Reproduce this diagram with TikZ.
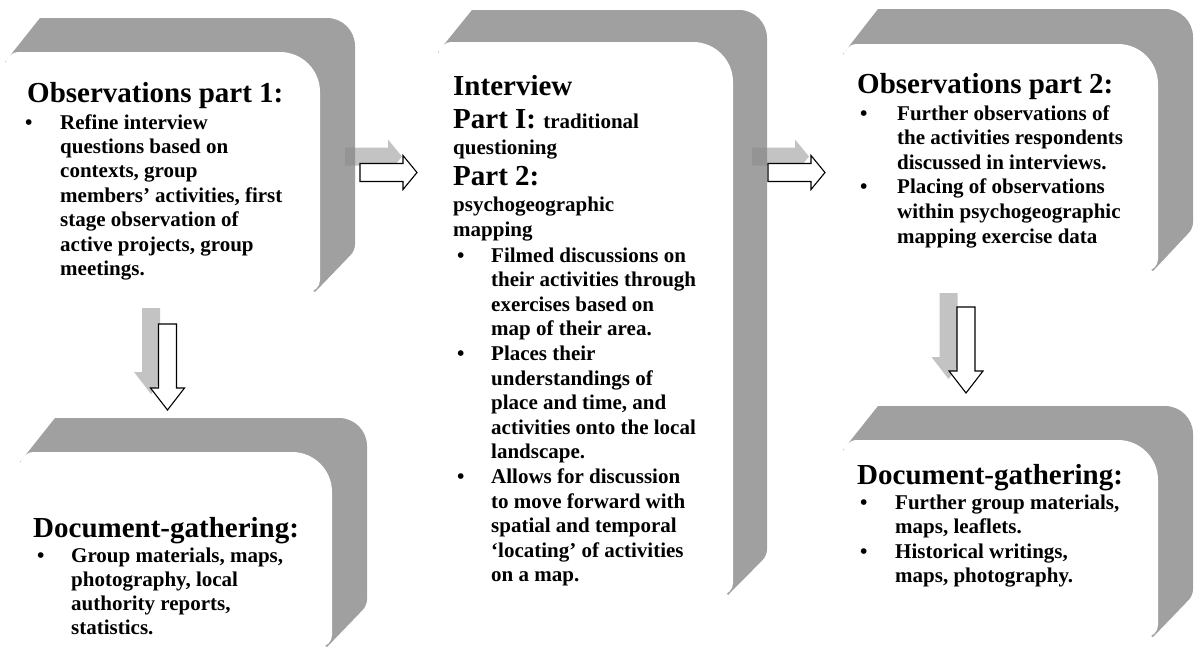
\documentclass[tikz,border=0pt]{standalone}
\usepackage{fontspec}
\setmainfont{Liberation Serif}
\definecolor{boxgray}{RGB}{160,160,160}
\definecolor{shgray}{RGB}{137,137,137}
\tikzset{
  backface/.style={fill=boxgray,draw=none},
  frontface/.style={fill=white,draw=none},
  shadowarrow/.style={fill=shgray,fill opacity=0.5,draw=none},
  outarrow/.style={fill=white,draw=black,line width=1.1pt,line join=miter},
  hd/.style={anchor=base west,inner sep=0pt,font=\fontsize{29}{34}\selectfont\bfseries},
  bd/.style={anchor=base west,inner sep=0pt,font=\fontsize{21}{24}\selectfont\bfseries},
}
% ribbon box: #1 x1, #2 top, #3 x2, #4 bottom, #5 dx, #6 dy (page y grows downward)
\newcommand\ribbon[6]{%
  \fill[backface] ({#1},{-(#2+10)}) -- ({#1+#5},{-(#2-#6)})
    -- ({#3+#5-28},{-(#2-#6)}) arc[start angle=90,end angle=0,radius=28]
    -- ({#3+#5},{-(#4-#6-14)}) arc[start angle=0,end angle=-45,radius=16]
    -- ({#3-5},{-#4}) -- cycle;
  \fill[frontface] ({#1},{-#4}) -- ({#1},{-(#2+14)}) arc[start angle=180,end angle=90,radius=14]
    -- ({#3-40},{-#2}) arc[start angle=90,end angle=0,radius=40]
    -- ({#3},{-(#4-12)}) arc[start angle=0,end angle=-90,radius=12] -- cycle;
}
% right block arrow starting at (#1,#2), centre line y=#2
\newcommand\rarrow[3]{%
  \filldraw[#3] ({#1},{-(#2-9)}) -- ({#1+43},{-(#2-9)}) -- ({#1+43},{-(#2-17)})
    -- ({#1+57},{-#2}) -- ({#1+43},{-(#2+17)}) -- ({#1+43},{-(#2+9)})
    -- ({#1},{-(#2+9)}) -- cycle;
}
% down block arrow: centre x=#1, top y=#2
\newcommand\darrow[3]{%
  \filldraw[#3] ({#1-9},{-#2}) -- ({#1+9},{-#2}) -- ({#1+9},{-(#2+64)})
    -- ({#1+17},{-(#2+64)}) -- ({#1},{-(#2+86)}) -- ({#1-17},{-(#2+64)})
    -- ({#1-9},{-(#2+64)}) -- cycle;
}
\newcommand\BL[2]{\hbox{\makebox[#1pt][l]{•}#2}}
\newcommand\CL[2]{\hbox{\hskip#1pt #2}}
\newcommand\lsp[1]{\fontsize{21}{#1}\selectfont}
\begin{document}
\begin{tikzpicture}[x=1pt,y=1pt]
\useasboundingbox (0,0) rectangle (1195,-649);
\fill[white] (0,0) rectangle (1195,-649);

% boxes
\ribbon{5}{52}{320}{292}{35}{34}
\ribbon{20}{452}{332}{647}{35}{34}
\ribbon{438}{42}{733}{595}{34}{32}
\ribbon{843}{44}{1158}{271}{35}{35}
\ribbon{843}{440}{1158}{637}{35}{34}

% arrows
\rarrow{345}{156.5}{shadowarrow}
\rarrow{360}{172.5}{outarrow}
\rarrow{752}{156.5}{shadowarrow}
\rarrow{768}{172.5}{outarrow}
\darrow{151}{308}{shadowarrow}
\darrow{167.5}{324}{outarrow}
\darrow{948.5}{293}{shadowarrow}
\darrow{966}{307}{outarrow}

% box 1
\node[hd] (h1) at (27,-102) {Observations part 1:};
\node[bd] (l1) at (25,-129) {\vtop{\lsp{24.4}%
  \BL{35}{Refine interview}\CL{35}{questions based on}\CL{35}{contexts, group}%
  \CL{35}{members’ activities, first}\CL{35}{stage observation of}%
  \CL{35}{active projects, group}\CL{35}{meetings.}}};

% box 2
\node[hd] (h2) at (33,-537) {Document-gathering:};
\node[bd] (l2) at (37,-562) {\vtop{\lsp{24}%
  \BL{34}{Group materials, maps,}\CL{34}{photography, local}%
  \CL{34}{authority reports,}\CL{34}{statistics.}}};

% box 3
\node[hd] (h3a) at (453,-95) {Interview};
\node[bd] (h3b) at (453,-128) {{\fontsize{29}{34}\selectfont Part I: }traditional};
\node[bd] (h3c) at (453,-154) {questioning};
\node[hd] (h3d) at (453,-185) {Part 2:};
\node[bd] (h3e) at (453,-211) {psychogeographic};
\node[bd] (h3f) at (453,-236) {mapping};
\node[bd] (l3) at (457,-262) {\vtop{\lsp{24.6}%
  \BL{34}{Filmed discussions on}\CL{34}{their activities through}%
  \CL{34}{exercises based on}\CL{34}{map of their area.}%
  \BL{34}{Places their}\CL{34}{understandings of}\CL{34}{place and time, and}%
  \CL{34}{activities onto the local}\CL{34}{landscape.}%
  \BL{34}{Allows for discussion}\CL{34}{to move forward with}%
  \CL{34}{spatial and temporal}\CL{34}{‘locating’ of activities}\CL{34}{on a map.}}};

% box 4
\node[hd] (h4) at (857,-93) {Observations part 2:};
\node[bd] (l4) at (860,-120) {\vtop{\lsp{24.6}%
  \BL{37}{Further observations of}\CL{37}{the activities respondents}%
  \CL{37}{discussed in interviews.}\BL{37}{Placing of observations}%
  \CL{37}{within psychogeographic}\CL{37}{mapping exercise data}}};

% box 5
\node[hd] (h5) at (857,-484) {Document-gathering:};
\node[bd] (l5) at (860,-509) {\vtop{\lsp{24.5}%
  \BL{35}{Further group materials,}\CL{35}{maps, leaflets.}%
  \BL{35}{Historical writings,}\CL{35}{maps, photography.}}};
\end{tikzpicture}
\end{document}
